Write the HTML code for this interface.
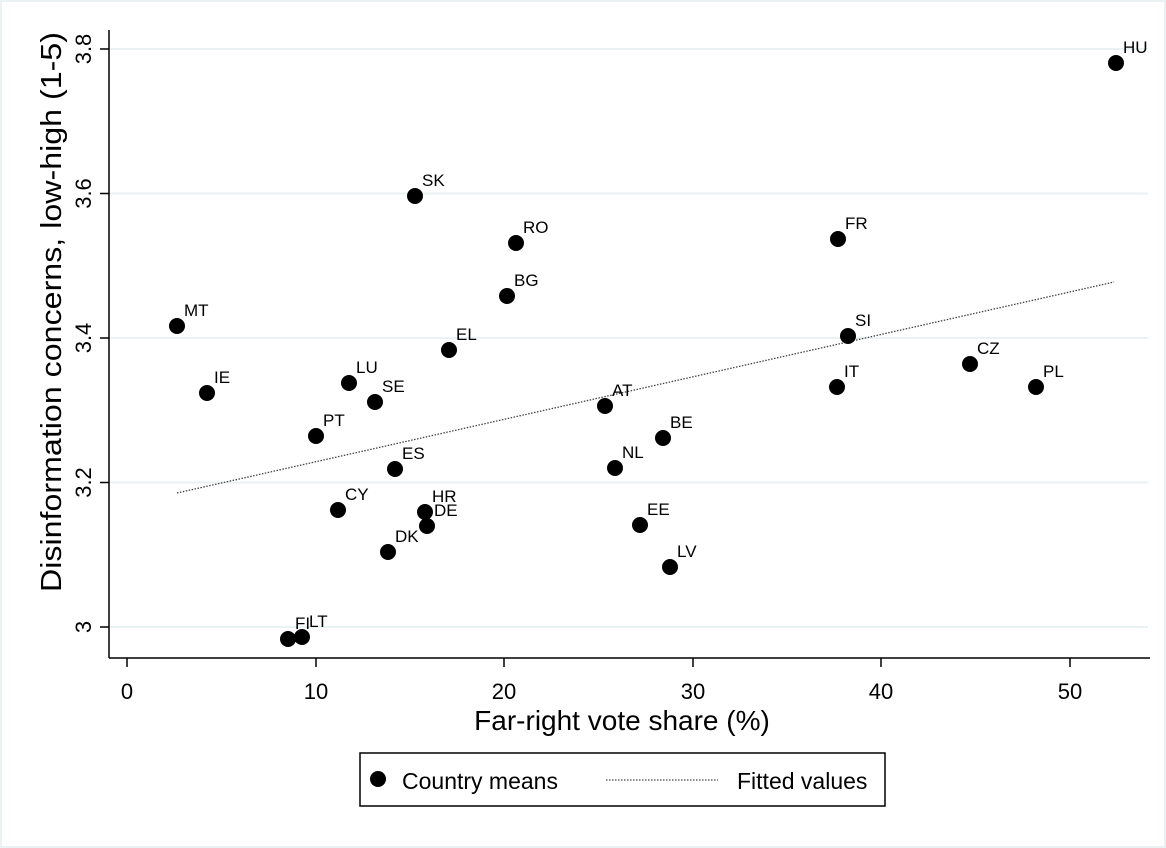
<!DOCTYPE html><html><head><style>body{margin:0;background:#fff}svg{display:block}text{font-family:"Liberation Sans",Arial,sans-serif}</style></head><body>
<svg width="1166" height="848" viewBox="0 0 1166 848">
<rect x="0" y="0" width="1166" height="848" fill="#fff"/>
<rect x="1" y="1" width="1164" height="846" fill="none" stroke="#eaf2f3" stroke-width="2"/>
<g stroke="#eaf2f3" stroke-width="2">
<line x1="109" y1="49" x2="1148" y2="49"/><line x1="109" y1="193.5" x2="1148" y2="193.5"/><line x1="109" y1="338" x2="1148" y2="338"/><line x1="109" y1="482.5" x2="1148" y2="482.5"/><line x1="109" y1="627" x2="1148" y2="627"/>
</g>
<g stroke="#000" stroke-width="1.5">
<line x1="109" y1="30" x2="109" y2="658"/><line x1="109" y1="658" x2="1150" y2="658"/>
<line x1="100" y1="49" x2="109" y2="49"/><line x1="100" y1="193.5" x2="109" y2="193.5"/><line x1="100" y1="338" x2="109" y2="338"/><line x1="100" y1="482.5" x2="109" y2="482.5"/><line x1="100" y1="627" x2="109" y2="627"/>
<line x1="127" y1="658" x2="127" y2="667"/><line x1="316" y1="658" x2="316" y2="667"/><line x1="504" y1="658" x2="504" y2="667"/><line x1="693" y1="658" x2="693" y2="667"/><line x1="881" y1="658" x2="881" y2="667"/><line x1="1070" y1="658" x2="1070" y2="667"/>
</g>
<g font-size="22" text-anchor="middle">
<text x="127" y="699">0</text><text x="316" y="699">10</text><text x="504" y="699">20</text><text x="693" y="699">30</text><text x="881" y="699">40</text><text x="1070" y="699">50</text>
</g>
<g font-size="22" text-anchor="middle">
<text transform="translate(91,627) rotate(-90)">3</text>
<text transform="translate(91,482.5) rotate(-90)">3.2</text>
<text transform="translate(91,338) rotate(-90)">3.4</text>
<text transform="translate(91,193.5) rotate(-90)">3.6</text>
<text transform="translate(91,49) rotate(-90)">3.8</text>
</g>
<text x="622" y="730" font-size="28" text-anchor="middle">Far-right vote share (%)</text>
<text transform="translate(61,312) rotate(-90)" font-size="29" text-anchor="middle" textLength="560" lengthAdjust="spacingAndGlyphs">Disinformation concerns, low-high (1-5)</text>
<line x1="177" y1="493" x2="1114" y2="282" stroke="#444" stroke-width="1.3" stroke-dasharray="1.5,1.5"/>
<g fill="#000">
<circle cx="1116" cy="63" r="8"/><circle cx="415" cy="196" r="8"/><circle cx="516" cy="243" r="8"/><circle cx="838" cy="239" r="8"/><circle cx="507" cy="296" r="8"/><circle cx="177" cy="326" r="8"/><circle cx="848" cy="336" r="8"/><circle cx="449" cy="350" r="8"/><circle cx="970" cy="364" r="8"/><circle cx="207" cy="393" r="8"/><circle cx="349" cy="383" r="8"/><circle cx="375" cy="402" r="8"/><circle cx="837" cy="387" r="8"/><circle cx="1036" cy="387" r="8"/><circle cx="605" cy="406" r="8"/><circle cx="316" cy="436" r="8"/><circle cx="663" cy="438" r="8"/><circle cx="395" cy="469" r="8"/><circle cx="615" cy="468" r="8"/><circle cx="338" cy="510" r="8"/><circle cx="425" cy="512" r="8"/><circle cx="427" cy="526" r="8"/><circle cx="640" cy="525" r="8"/><circle cx="388" cy="552" r="8"/><circle cx="670" cy="567" r="8"/><circle cx="288" cy="639" r="8"/><circle cx="302" cy="637" r="8"/>
</g>
<g font-size="17">
<text x="1123" y="53">HU</text><text x="422" y="186">SK</text><text x="523" y="233">RO</text><text x="845" y="229">FR</text><text x="514" y="286">BG</text><text x="184" y="316">MT</text><text x="855" y="326">SI</text><text x="456" y="340">EL</text><text x="977" y="354">CZ</text><text x="214" y="383">IE</text><text x="356" y="373">LU</text><text x="382" y="392">SE</text><text x="844" y="377">IT</text><text x="1043" y="377">PL</text><text x="612" y="396">AT</text><text x="323" y="426">PT</text><text x="670" y="428">BE</text><text x="402" y="459">ES</text><text x="622" y="458">NL</text><text x="345" y="500">CY</text><text x="432" y="502">HR</text><text x="434" y="516">DE</text><text x="647" y="515">EE</text><text x="395" y="542">DK</text><text x="677" y="557">LV</text><text x="295" y="629">FI</text><text x="309" y="627">LT</text>
</g>
<rect x="360" y="753" width="525" height="53" fill="#fff" stroke="#000" stroke-width="1.5"/>
<circle cx="378" cy="779" r="8" fill="#000"/>
<text x="402" y="789" font-size="23">Country means</text>
<line x1="606" y1="780" x2="718" y2="780" stroke="#444" stroke-width="1.3" stroke-dasharray="1.5,1.5"/>
<text x="737" y="789" font-size="23">Fitted values</text>
</svg></body></html>
